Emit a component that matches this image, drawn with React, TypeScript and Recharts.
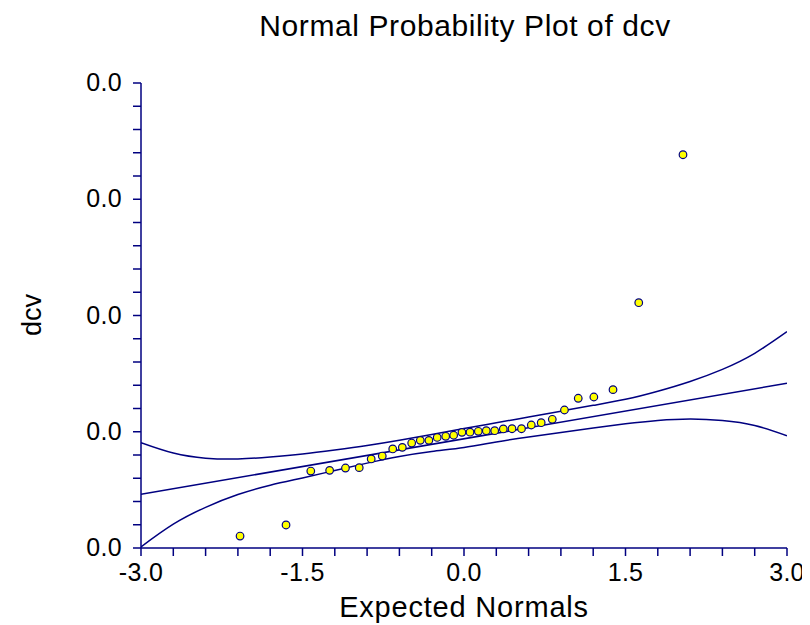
import React from "react";
import { ComposedChart, XAxis, YAxis, Line, Scatter } from "recharts";

// Expected normal scores (x) and observed dcv values (y)
const expectedNormals = [
  -2.08, -1.653, -1.423, -1.248, -1.101, -0.973, -0.862, -0.759, -0.662, -0.573, -0.486,
  -0.406, -0.326, -0.249, -0.17, -0.096, -0.019, 0.056, 0.133, 0.207, 0.285, 0.365,
  0.446, 0.534, 0.625, 0.717, 0.82, 0.933, 1.061, 1.206, 1.384, 1.623, 2.034,
];
const dcvValues = [
  0.00103, 0.00198, 0.00662, 0.00668, 0.00688, 0.00691, 0.00766, 0.00791, 0.00852, 0.00866,
  0.00903, 0.00926, 0.00926, 0.00951, 0.00961, 0.0097, 0.00995, 0.00996, 0.01004, 0.01009,
  0.01009, 0.01024, 0.01026, 0.01026, 0.01058, 0.01078, 0.01107, 0.01187, 0.01288, 0.01299,
  0.01362, 0.0211, 0.03383,
];

// Confidence band
const bandX = [
  -3, -2.7, -2.4, -2.1, -1.8, -1.5, -1.2, -0.9, -0.6, -0.3, 0, 0.3, 0.6, 0.9, 1.2, 1.5, 1.8,
  2.1, 2.4, 2.7, 3,
];
const bandUpper = [
  0.00906, 0.00817, 0.00773, 0.00766, 0.00783, 0.00809, 0.00843, 0.00881, 0.00926, 0.00976,
  0.01027, 0.01077, 0.01127, 0.01177, 0.01227, 0.01279, 0.01349, 0.01433, 0.01537, 0.01675,
  0.01861,
];
const bandLower = [
  0.0001, 0.00205, 0.0035, 0.0046, 0.0054, 0.00603, 0.00667, 0.0073, 0.00787, 0.0083,
  0.00865, 0.00912, 0.00955, 0.00994, 0.01032, 0.01068, 0.01097, 0.0111, 0.01097, 0.01054,
  0.00966,
];

// Fitted reference line
const fitX = [-3, 3];
const fitY = [0.00462, 0.01417];

// Axis ticks
const xTicks = [
  -3, -2.7, -2.4, -2.1, -1.8, -1.5, -1.2, -0.9, -0.6, -0.3, 0, 0.3, 0.6, 0.9, 1.2, 1.5, 1.8,
  2.1, 2.4, 2.7, 3,
];
const xMajor = [-3, -1.5, 0, 1.5, 3];
const yTicks = [
  0, 0.002, 0.004, 0.006, 0.008, 0.01, 0.012, 0.014, 0.016, 0.018, 0.02, 0.022, 0.024, 0.026,
  0.028, 0.03, 0.032, 0.034, 0.036, 0.038, 0.04,
];
const yMajor = [0, 0.01, 0.02, 0.03, 0.04];

const title = "Normal Probability Plot of dcv";
const xTitle = "Expected Normals";
const yTitle = "dcv";

const points = expectedNormals.map((x, i) => ({ x, y: dcvValues[i] }));
const band = bandX.map((x, i) => ({ x, upper: bandUpper[i], lower: bandLower[i] }));
const fit = fitX.map((x, i) => ({ x, fit: fitY[i] }));

const NAVY = "#000080";
const FONT = "'Liberation Sans', Arial, sans-serif";

const isMajor = (list: number[], v: number) => list.some((m) => Math.abs(m - v) < 1e-9);

const XTick = (props: any) => {
  const { x, y, payload } = props;
  if (!isMajor(xMajor, payload.value)) return null;
  return (
    <text
      x={x}
      y={y}
      dy={23}
      textAnchor="middle"
      fontSize={25}
      letterSpacing={0.3}
      fill="#000"
      fontFamily={FONT}
    >
      {payload.value.toFixed(1)}
    </text>
  );
};

const YTick = (props: any) => {
  const { x, y, payload } = props;
  if (!isMajor(yMajor, payload.value)) return null;
  return (
    <text
      x={x - 9}
      y={y}
      dy={8}
      textAnchor="end"
      fontSize={25}
      letterSpacing={0.3}
      fill="#000"
      fontFamily={FONT}
    >
      {payload.value.toFixed(1)}
    </text>
  );
};

export default function App() {
  const W = 802;
  const H = 617;
  return (
    <div style={{ position: "relative", width: W, height: H, fontFamily: FONT }}>
      <ComposedChart
        width={W}
        height={H}
        margin={{ top: 75, right: 23, bottom: 37, left: 33 }}
        style={{ position: "absolute", left: 0, top: 0 }}
      >
        <XAxis
          dataKey="x"
          type="number"
          domain={[-3, 3]}
          ticks={xTicks}
          interval={0}
          height={40}
          allowDataOverflow
          stroke={NAVY}
          strokeWidth={1.5}
          tickSize={8}
          tickLine={{ stroke: NAVY, strokeWidth: 1.5 }}
          tick={<XTick />}
        />
        <YAxis
          type="number"
          domain={[0, 0.04]}
          ticks={yTicks}
          interval={0}
          width={100}
          allowDataOverflow
          stroke={NAVY}
          strokeWidth={1.5}
          tickSize={8}
          tickLine={{ stroke: NAVY, strokeWidth: 1.5 }}
          tick={<YTick />}
        />
        <Line
          data={band}
          dataKey="upper"
          type="natural"
          stroke={NAVY}
          strokeWidth={1.5}
          dot={false}
          activeDot={false}
          isAnimationActive={false}
        />
        <Line
          data={band}
          dataKey="lower"
          type="natural"
          stroke={NAVY}
          strokeWidth={1.5}
          dot={false}
          activeDot={false}
          isAnimationActive={false}
        />
        <Line
          data={fit}
          dataKey="fit"
          type="linear"
          stroke={NAVY}
          strokeWidth={1.5}
          dot={false}
          activeDot={false}
          isAnimationActive={false}
        />
        <Scatter
          data={points}
          dataKey="y"
          fill="#ffff00"
          stroke={NAVY}
          strokeWidth={1.2}
          shape={(p: any) => (
            <circle cx={p.cx} cy={p.cy} r={3.8} fill="#ffff00" stroke={NAVY} strokeWidth={1.2} />
          )}
          isAnimationActive={false}
        />
      </ComposedChart>
      <svg
        width={W}
        height={H}
        style={{ position: "absolute", left: 0, top: 0, pointerEvents: "none" }}
      >
        <text
          x={457}
          y={28}
          textAnchor="middle"
          fontSize={30}
          letterSpacing={0.6}
          fill="#000"
          fontFamily={FONT}
        >
          {title}
        </text>
        <text
          x={456}
          y={609}
          textAnchor="middle"
          fontSize={29}
          letterSpacing={0.8}
          fill="#000"
          fontFamily={FONT}
        >
          {xTitle}
        </text>
        <text
          transform="translate(33,307) rotate(-90)"
          textAnchor="middle"
          fontSize={27}
          fill="#000"
          fontFamily={FONT}
        >
          {yTitle}
        </text>
      </svg>
    </div>
  );
}
